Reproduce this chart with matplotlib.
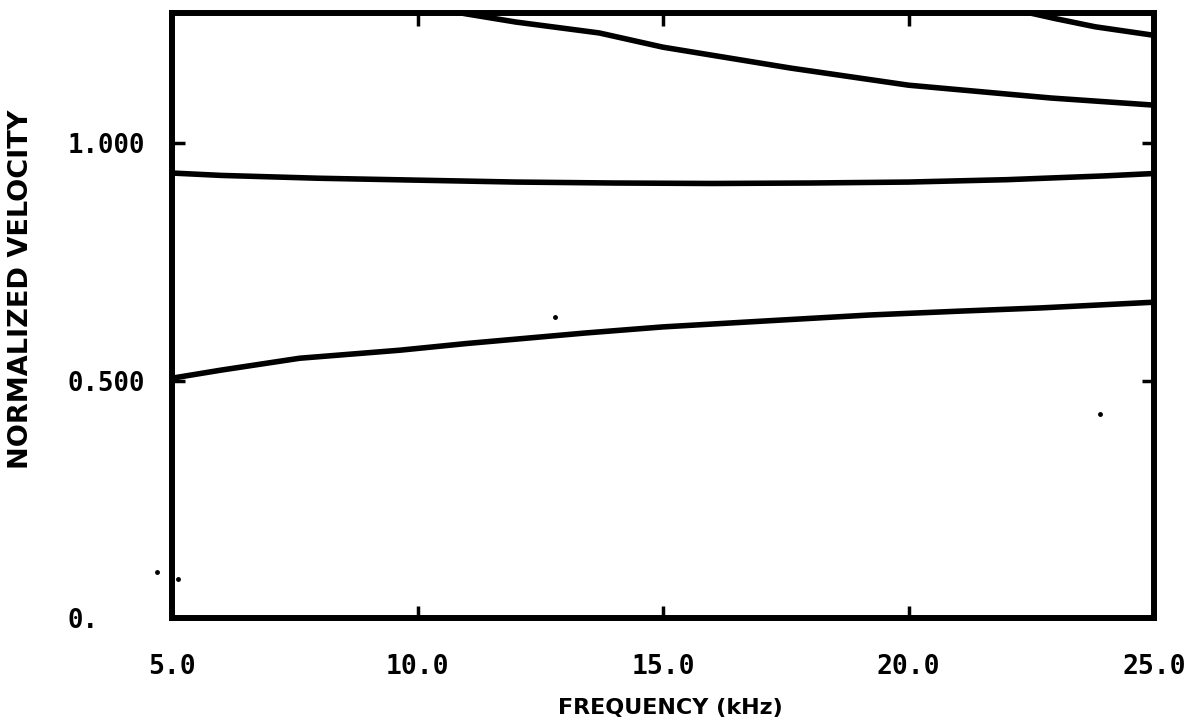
import numpy as np
from matplotlib import pyplot as plt
from matplotlib.ticker import FixedLocator, FixedFormatter

# frequency (kHz) and normalized velocity
freq_low = [5.0, 6.0, 7.6, 9.65, 11.0, 13.4, 15.0, 17.0, 19.2, 21.0, 22.7, 25.0]
vel_low = [0.505, 0.522, 0.547, 0.564, 0.578, 0.600, 0.613, 0.625, 0.638, 0.646, 0.653, 0.665]

freq_mid = [5.0, 6.0, 8.0, 10.0, 12.0, 14.0, 16.0, 18.0, 20.0, 22.0, 24.0, 25.0]
vel_mid = [0.937, 0.932, 0.926, 0.922, 0.918, 0.916, 0.915, 0.916, 0.918, 0.923, 0.931, 0.936]

freq_up = [10.0, 11.0, 12.0, 13.7, 15.0, 17.6, 20.0, 22.9, 25.0]
vel_up = [1.29, 1.272, 1.255, 1.232, 1.202, 1.158, 1.122, 1.095, 1.080]

freq_top = [22.0, 23.0, 23.8, 25.0]
vel_top = [1.285, 1.262, 1.245, 1.227]

# stray specks on the scan
noise_f = [4.7, 5.13, 12.8, 23.9]
noise_v = [0.097, 0.083, 0.633, 0.43]

x_ticks = [5.0, 10.0, 15.0, 20.0, 25.0]
x_labels = ['5.0', '10.0', '15.0', '20.0', '25.0']
y_ticks = [0.0, 0.5, 1.0]
y_labels = ['0.', '0.500', '1.000']

W, H = 1189, 728
fig = plt.figure(figsize=(W / 100, H / 100), dpi=100)
ax = fig.add_axes([172 / W, 1 - 618 / H, (1154 - 172) / W, (618 - 13) / H])

line_kw = dict(color='black', linewidth=4.0, solid_capstyle='butt')
ax.plot(freq_low, vel_low, **line_kw)
ax.plot(freq_mid, vel_mid, **line_kw)
ax.plot(freq_up, vel_up, **line_kw)
ax.plot(freq_top, vel_top, **line_kw)
ax.plot(noise_f, noise_v, 'o', color='black', markersize=2.5, clip_on=False)

ax.set_xlim(5.0, 25.0)
ax.set_ylim(0.0, 1.274)

for side in ['top', 'bottom', 'left', 'right']:
    ax.spines[side].set_linewidth(4.3)
    ax.spines[side].set_color('black')

ax.xaxis.set_major_locator(FixedLocator(x_ticks))
ax.xaxis.set_major_formatter(FixedFormatter(x_labels))
ax.yaxis.set_major_locator(FixedLocator(y_ticks))
ax.yaxis.set_major_formatter(FixedFormatter(y_labels))

ax.tick_params(axis='both', direction='in', length=9, width=2.5,
               top=True, right=True, color='black')
ax.tick_params(axis='x', pad=26)
ax.tick_params(axis='y', pad=75)

tick_font = dict(family='DejaVu Sans Mono', weight='bold')
for lab in ax.get_xticklabels():
    lab.set(fontsize=19, **tick_font)
for lab in ax.get_yticklabels():
    lab.set(fontsize=18.5, ha='left', **tick_font)

ax.set_xlabel('FREQUENCY (kHz)', fontsize=16, fontweight='bold')
ax.xaxis.set_label_coords((670 - 172) / (1154 - 172), -(698 - 618) / (618 - 13))
ax.set_ylabel('NORMALIZED VELOCITY', fontsize=19.5, fontweight='bold')
ax.yaxis.set_label_coords(-(172 - 34) / (1154 - 172), 1 - (289 - 13) / (618 - 13))

fig.savefig('out.png', dpi=100)
